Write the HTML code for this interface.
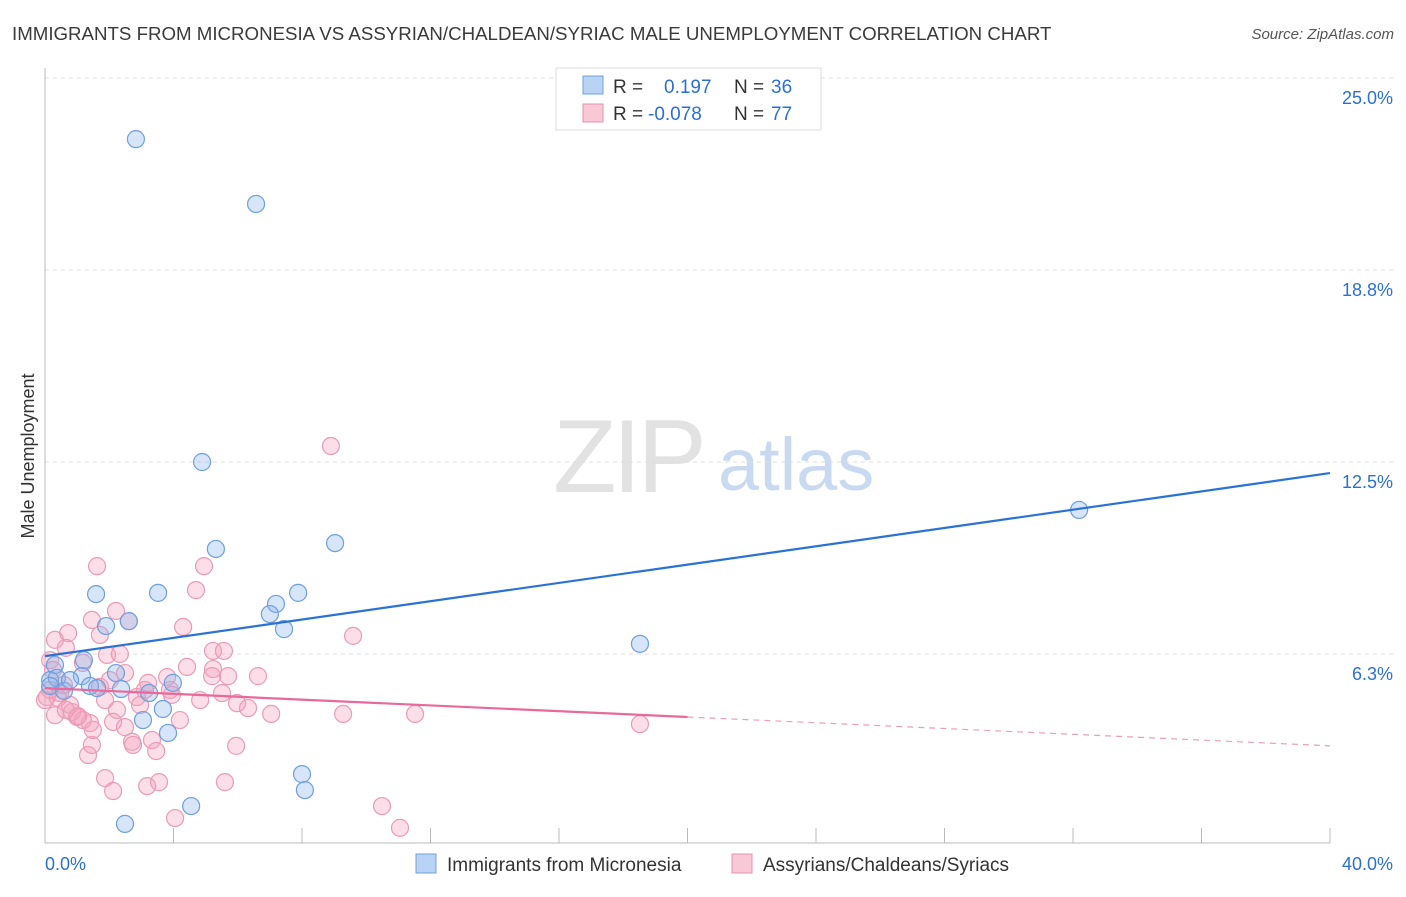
<!DOCTYPE html>
<html><head><meta charset="utf-8"><style>
body{margin:0;background:#fff;font-family:"Liberation Sans",sans-serif;}
svg text{font-family:"Liberation Sans",sans-serif;}
</style></head><body>
<svg id="chart" width="1406" height="892" xmlns="http://www.w3.org/2000/svg">
<text x="12" y="40" font-size="18.7" fill="#3a3a3a">IMMIGRANTS FROM MICRONESIA VS ASSYRIAN/CHALDEAN/SYRIAC MALE UNEMPLOYMENT CORRELATION CHART</text>
<text x="1394" y="39" font-size="15" fill="#555" text-anchor="end" font-style="italic">Source: ZipAtlas.com</text>
<g>
<text x="553" y="492" font-size="104" fill="#e2e2e2" font-family="Liberation Serif" letter-spacing="-4">ZIP</text>
<text x="718" y="490" font-size="74" fill="#c9daf0">atlas</text>
</g>
<g id="grid"></g>
<g id="axes"></g>
<g id="points"></g>
<g id="lines"></g>
<text transform="translate(34,456) rotate(-90)" font-size="18" fill="#333" text-anchor="middle">Male Unemployment</text>
<g>
<rect x="556" y="68" width="265" height="62" fill="#fff" stroke="#ddd"/>
<rect x="583" y="76" width="20" height="18" fill="#b9d3f5" stroke="#6fa0e0"/>
<rect x="583" y="104" width="20" height="18" fill="#f9c8d7" stroke="#e891ae"/>
<text x="613" y="93" font-size="19" fill="#333">R =</text>
<text x="664" y="93" font-size="19" fill="#2b6fd6">0.197</text>
<text x="734" y="93" font-size="19" fill="#333">N =</text>
<text x="771" y="93" font-size="19" fill="#2b6fd6">36</text>
<text x="613" y="120" font-size="19" fill="#333">R =</text>
<text x="648" y="120" font-size="19" fill="#2b6fd6">-0.078</text>
<text x="734" y="120" font-size="19" fill="#333">N =</text>
<text x="771" y="120" font-size="19" fill="#2b6fd6">77</text>
</g>
<g>
<rect x="416" y="854" width="20" height="19" fill="#b9d3f5" stroke="#6fa0e0"/>
<text x="447" y="871" font-size="19" fill="#333">Immigrants from Micronesia</text>
<rect x="732" y="854" width="20" height="19" fill="#f9c8d7" stroke="#e891ae"/>
<text x="763" y="871" font-size="19" fill="#333">Assyrians/Chaldeans/Syriacs</text>
</g>
</svg>
<script>
const xTickLabels=["0.0%","40.0%"];
const yTicks=[6.25,12.5,18.75,25];
const yTickLabels=["6.3%","12.5%","18.8%","25.0%"];
const blueX=[2.83,6.57,4.89,5.32,9.03,3.52,1.59,7.88,7.19,7.00,7.44,1.90,2.61,18.52,32.19,0.31,1.21,2.21,1.15,0.16,0.37,1.40,1.62,2.37,3.24,3.98,0.59,3.67,3.05,3.83,8.00,8.09,4.55,2.49,0.16,0.78];
const blueY=[23.01,20.90,12.50,9.67,9.86,8.24,8.20,8.24,7.88,7.55,7.06,7.16,7.32,6.58,10.94,5.89,6.05,5.63,5.53,5.40,5.47,5.21,5.14,5.11,4.98,5.31,5.05,4.46,4.10,3.68,2.34,1.82,1.30,0.72,5.21,5.40];
const pinkX=[1.62,4.95,4.70,2.21,1.46,2.61,0.72,1.71,4.30,9.59,0.65,1.93,2.33,5.23,5.57,0.16,1.18,4.42,5.23,5.70,6.63,2.49,5.20,0.25,1.71,3.21,3.80,3.95,2.86,5.51,5.98,6.32,7.04,9.28,0.31,0.84,1.00,1.18,1.40,2.24,2.12,2.49,3.33,3.46,2.71,2.74,1.46,1.34,5.95,1.87,2.12,3.18,3.55,5.60,4.05,0.16,0.47,0.06,8.90,11.52,18.52,10.49,11.05,0,0.40,0.78,0.59,1.87,1.49,1.03,2.96,3.89,4.83,0.31,0.65,2.02,3.11,4.20];
const pinkY=[9.11,9.11,8.33,7.65,7.36,7.32,6.93,6.87,7.13,6.84,6.45,6.22,6.25,6.35,6.35,6.05,5.96,5.83,5.76,5.53,5.53,5.63,5.53,5.73,5.18,5.31,5.50,4.92,4.85,4.98,4.65,4.49,4.30,4.30,4.26,4.36,4.20,4.10,4.00,4.43,4.04,3.87,3.45,3.09,3.39,3.29,3.29,2.96,3.26,2.21,1.79,1.95,2.08,2.08,0.91,5.08,4.98,4.85,13.02,4.30,3.97,1.30,0.59,4.75,4.82,4.59,5.24,4.75,3.78,4.23,4.59,5.08,4.75,6.71,4.43,5.40,5.08,4.10];
const blueTrend=[6.18,12.14];
const pinkTrend=[5.14,3.26];
const pinkSolidEnd=20;

const NS="http://www.w3.org/2000/svg";
const X=v=>45+v/40*1285;
const Y=v=>846-v*30.72;
function mk(tag,attrs,parent){const e=document.createElementNS(NS,tag);for(const k in attrs)e.setAttribute(k,attrs[k]);parent.appendChild(e);return e;}
const grid=document.getElementById('grid'),axes=document.getElementById('axes'),pts=document.getElementById('points'),lines=document.getElementById('lines');
yTicks.forEach((t,i)=>{
 const l=mk('line',{x1:45,x2:1394,y1:Y(t),y2:Y(t),stroke:'#ddd','stroke-dasharray':'4,4'},grid);
 
 
 const tx=mk('text',{x:1393,y:Y(t)+26,'font-size':18,fill:'#2b6fd6','text-anchor':'end'},axes);
 tx.textContent=yTickLabels[i];
 
 
});
const ya=mk('line',{x1:45,x2:45,y1:68,y2:843,stroke:'#bbb'},axes);


const xa=mk('line',{x1:45,x2:1330,y1:843,y2:843,stroke:'#bbb'},axes);


for(let i=0;i<=10;i++){
 const t=mk('line',{x1:X(i*4),x2:X(i*4),y1:828,y2:843,stroke:'#bbb'},axes);
 
 
}
const xl0=mk('text',{x:45,y:870,'font-size':18,fill:'#2b6fd6'},axes);
xl0.textContent=xTickLabels[0];


const xl1=mk('text',{x:1393,y:870,'font-size':18,fill:'#2b6fd6','text-anchor':'end'},axes);
xl1.textContent=xTickLabels[1];


pinkX.forEach((v,i)=>{
 const c=mk('circle',{cx:X(v),cy:Y(pinkY[i]),r:8.5,fill:'rgba(244,160,188,0.35)',stroke:'#eb9bb6','stroke-width':1.2},pts);
 
 
});
blueX.forEach((v,i)=>{
 const c=mk('circle',{cx:X(v),cy:Y(blueY[i]),r:8.5,fill:'rgba(140,180,235,0.35)',stroke:'#6d9fe0','stroke-width':1.2},pts);
 
 
});
const bl=mk('line',{x1:X(0),y1:Y(blueTrend[0]),x2:X(40),y2:Y(blueTrend[1]),stroke:'#2a72d6','stroke-width':2.2},lines);


const pm=pinkTrend[0]+(pinkTrend[1]-pinkTrend[0])*pinkSolidEnd/40;
const pl=mk('line',{x1:X(0),y1:Y(pinkTrend[0]),x2:X(pinkSolidEnd),y2:Y(pm),stroke:'#e8699a','stroke-width':2.2},lines);


const pd=mk('line',{x1:X(pinkSolidEnd),y1:Y(pm),x2:X(40),y2:Y(pinkTrend[1]),stroke:'#e8a0b8','stroke-width':1.2,'stroke-dasharray':'6,5'},lines);


</script>
</body></html>
